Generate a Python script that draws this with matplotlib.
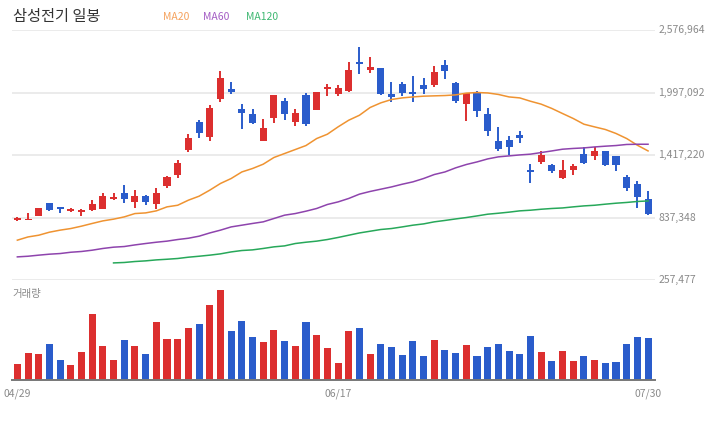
import numpy as np
import matplotlib
matplotlib.use('Agg')
import matplotlib.pyplot as plt

plt.rcParams['font.family'] = ['Noto Sans CJK KR', 'DejaVu Sans']

# prices in thousand KRW
opens = [812, 812, 849, 970, 933, 896, 887, 905, 914, 1007,
         1063, 979, 1035, 961, 1128, 1230, 1462, 1722, 1582, 1935,
         2028, 1842, 1796, 1545, 1759, 1916, 1722, 1972, 1833, 2028,
         1981, 2009, 2278, 2204, 2223, 1981, 2074, 2000, 2065, 2065,
         2250, 2083, 1889, 1991, 1796, 1545, 1555, 1601, 1276, 1350,
         1323, 1202, 1276, 1425, 1406, 1452, 1406, 1211, 1146, 1007]
highs = [840, 877, 924, 970, 933, 924, 914, 998, 1063, 1063,
         1137, 1091, 1044, 1109, 1221, 1369, 1610, 1740, 1879, 2195,
         2093, 1889, 1842, 1749, 1972, 1944, 1842, 1991, 2000, 2074,
         2065, 2278, 2417, 2325, 2223, 2093, 2093, 2148, 2130, 2241,
         2297, 2093, 1991, 2009, 1851, 1675, 1592, 1638, 1332, 1452,
         1332, 1369, 1332, 1490, 1490, 1452, 1406, 1230, 1174, 1081]
lows = [803, 812, 849, 896, 877, 887, 849, 896, 914, 998,
        970, 924, 951, 914, 1109, 1202, 1443, 1573, 1545, 1907,
        1981, 1657, 1703, 1545, 1712, 1740, 1684, 1684, 1833, 1963,
        1963, 2000, 2167, 2176, 1972, 1907, 1963, 1907, 1981, 2046,
        2120, 1898, 1731, 1768, 1592, 1452, 1415, 1527, 1156, 1332,
        1248, 1193, 1230, 1332, 1369, 1313, 1267, 1081, 924, 859]
closes = [831, 828, 924, 905, 914, 914, 905, 961, 1035, 1026,
          1007, 1035, 979, 1063, 1211, 1341, 1573, 1619, 1851, 2130,
          2000, 1805, 1712, 1666, 1972, 1796, 1805, 1703, 2000, 2046,
          2037, 2204, 2260, 2232, 1981, 1954, 1991, 1981, 2028, 2185,
          2195, 1916, 1991, 1824, 1638, 1471, 1490, 1573, 1258, 1415,
          1267, 1276, 1313, 1341, 1452, 1323, 1323, 1109, 1026, 868]

ma20 = [627, 657, 673, 701, 720, 735, 757, 782, 806, 822,
        843, 874, 880, 899, 936, 951, 998, 1035, 1091, 1153,
        1199, 1260, 1292, 1332, 1394, 1431, 1468, 1505, 1570, 1610,
        1678, 1740, 1786, 1858, 1901, 1932, 1947, 1956, 1963, 1966,
        1969, 1975, 1991, 1997, 1993, 1979, 1956, 1947, 1916, 1889,
        1849, 1802, 1756, 1703, 1678, 1654, 1617, 1570, 1508, 1455]
ma60 = [472, 478, 488, 497, 503, 515, 522, 534, 550, 562,
        568, 583, 596, 608, 618, 633, 645, 664, 694, 720,
        750, 766, 782, 797, 828, 859, 874, 896, 921, 958,
        982, 1014, 1054, 1079, 1100, 1121, 1146, 1168, 1199, 1236,
        1260, 1298, 1329, 1353, 1381, 1400, 1409, 1418, 1425, 1440,
        1455, 1471, 1478, 1483, 1492, 1499, 1505, 1515, 1517, 1517]
ma120 = [None] * 9 + [
        416, 420, 429, 435, 444, 450, 457, 469, 478, 488, 500,
        518, 531, 537, 550, 565, 574, 596, 608, 618, 633,
        652, 673, 694, 710, 726, 735, 750, 766, 778, 797,
        810, 824, 837, 852, 868, 877, 887, 899, 905, 914,
        921, 926, 936, 945, 951, 961, 970, 977, 986, 991]

# volume, thousand shares
volume = [160, 270, 260, 360, 200, 150, 280, 660, 340, 200,
          400, 340, 260, 580, 410, 410, 520, 560, 750, 900,
          490, 590, 430, 380, 500, 390, 340, 580, 450, 320,
          170, 490, 520, 260, 360, 330, 250, 390, 240, 400,
          300, 270, 350, 240, 330, 360, 290, 260, 440, 280,
          190, 290, 190, 240, 200, 170, 180, 360, 430, 420]

date_ticks = {0: '04/29', 30: '06/17', 59: '07/30'}
yticks = [257477, 837348, 1417220, 1997092, 2576964]

RED = '#dc2f2f'
BLUE = '#2a5ccb'
GRID = '#e8e8e8'
TXT = '#8a8a8a'

o = np.array(opens) * 1000
h = np.array(highs) * 1000
l = np.array(lows) * 1000
c = np.array(closes) * 1000
x = np.arange(len(o))
up = c >= o
colors = np.where(up, RED, BLUE)

fig = plt.figure(figsize=(7.2, 4.4), dpi=100)
W, H = 720, 440
left, right = 12 / W, 655 / W
ax = fig.add_axes([left, (H - 280) / H, right - left, 250 / H])
axv = fig.add_axes([left, (H - 380) / H, right - left, 100 / H])

xlim = (-0.5, 59.65)

# price panel
ax.set_xlim(*xlim)
ax.set_ylim(yticks[0], yticks[-1])
for t in yticks:
    ax.axhline(t, color=GRID, lw=1.2, zorder=0)
ax.vlines(x, l, h, colors=colors, lw=1.4, zorder=2)
body_lo = np.minimum(o, c)
body_h = np.maximum(np.abs(c - o), 14000)
ax.bar(x, body_h, bottom=body_lo, width=0.66, color=colors, zorder=3)

ax.plot(x, np.array(ma20) * 1000, color='#ef9331', lw=1.1, zorder=4)
ax.plot(x, np.array(ma60) * 1000, color='#8e44ad', lw=1.1, zorder=4)
ma120_y = np.array([np.nan if v is None else v * 1000 for v in ma120])
ax.plot(x, ma120_y, color='#27a85a', lw=1.1, zorder=4)

ax.set_xticks([])
ax.set_yticks([])
for s in ax.spines.values():
    s.set_visible(False)
for t in yticks:
    ax.text(1.005, t, f'{t:,}', transform=ax.get_yaxis_transform(),
            ha='left', va='center', fontsize=7.5, color=TXT)

# title + legend
fig.text(13 / W, 1 - 17 / H, '삼성전기 일봉', fontsize=11, color='#333333',
         ha='left', va='center')
for label, col, px in [('MA20', '#f5a25d', 163), ('MA60', '#a45cc4', 203),
                       ('MA120', '#3fb872', 246)]:
    fig.text(px / W, 1 - 17 / H, label, fontsize=7.5, color=col,
             ha='left', va='center')

# volume panel
axv.set_xlim(*xlim)
axv.set_ylim(0, max(volume) * 1.11)
axv.bar(x, volume, width=0.66, color=colors)
for s in ['top', 'right', 'left']:
    axv.spines[s].set_visible(False)
axv.spines['bottom'].set_color('#777777')
axv.spines['bottom'].set_linewidth(1.4)
axv.set_yticks([])
axv.set_xticks(list(date_ticks.keys()))
axv.set_xticklabels(list(date_ticks.values()), fontsize=7.5, color=TXT)
axv.tick_params(axis='x', length=0, pad=6)
axv.text(0.0, 0.86, '거래량', transform=axv.transAxes, fontsize=7.5,
         color=TXT, ha='left', va='center')

fig.savefig('out.png', dpi=100)
